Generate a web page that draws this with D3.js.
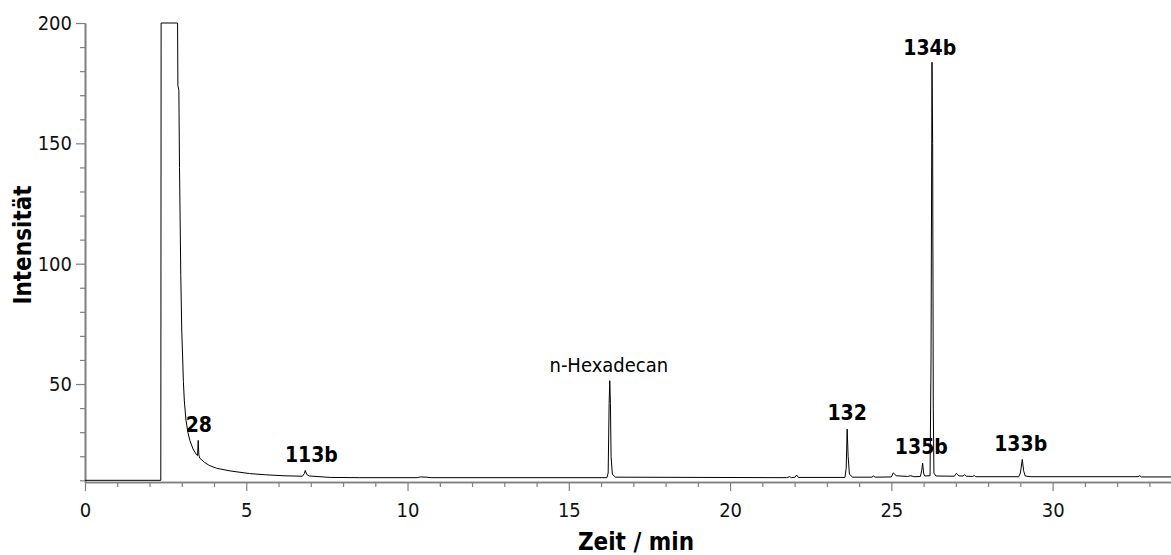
<!DOCTYPE html>
<html>
<head>
<meta charset="utf-8">
<script src="https://cdn.jsdelivr.net/npm/d3@7"></script>
<style>
    body { margin: 0; background: #fff; }
    svg text { font-family: "DejaVu Sans Condensed", "DejaVu Sans", sans-serif; font-stretch: condensed; }
</style>
</head>
<body>
<svg id="chart"></svg>
<script>
// chromatogram trace (time in min, intensity)
const timeMin = [
    0, 2.35, 2.36, 2.87, 2.88, 2.91, 2.93, 2.97, 3.0, 3.03, 3.05, 3.08, 3.13, 3.19, 3.25, 3.35,
    3.46, 3.49, 3.51, 3.53, 3.56, 3.7, 3.85, 4.08, 4.5, 5.1, 5.6, 6.14, 6.74, 6.8, 6.83, 6.87,
    6.95, 7.6, 8.5, 10.3, 10.4, 10.6, 10.7, 16.18, 16.22, 16.25, 16.27, 16.29, 16.31, 16.35,
    16.45, 21.75, 21.85, 21.9, 22.02, 22.06, 22.12, 23.56, 23.6, 23.63, 23.66, 23.7, 23.8,
    24.4, 24.44, 24.5, 25.0, 25.06, 25.15, 25.5, 25.6, 25.7, 25.9, 25.94, 25.97, 26.0, 26.03,
    26.2, 26.23, 26.26, 26.28, 26.3, 26.32, 26.38, 26.95, 27.02, 27.1, 27.22, 27.27, 27.32,
    27.52, 27.57, 27.62, 28.95, 29.0, 29.06, 29.1, 29.15, 29.3, 32.65, 32.7, 32.75, 33.67
];
const intensity = [
    10, 10, 200, 200, 174, 172, 140, 95, 72, 60, 51, 43, 35, 30, 26.6, 23,
    20.6, 20.3, 26.6, 20.5, 19.2, 17.5, 16.2, 15, 13.9, 12.8, 12.3, 11.9, 11.7, 12.8, 14.1, 12.5,
    11.8, 11.2, 11.1, 11.1, 11.4, 11.3, 11.1, 11.1, 13, 42, 51.4, 42, 20, 12.5,
    11.3, 11.1, 11.5, 11.1, 11.3, 12.2, 11.2, 11.2, 15, 31.3, 20, 12.5, 11.3,
    11.3, 11.8, 11.3, 11.4, 13.1, 11.9, 11.6, 11.9, 11.5, 11.6, 14, 17.1, 13, 11.8,
    11.9, 60, 183.7, 150, 40, 13, 11.8, 11.7, 12.9, 11.8, 11.8, 12.3, 11.7,
    11.6, 12, 11.5, 11.5, 13, 18.7, 14, 11.8, 11.5, 11.5, 11.9, 11.4, 11.4
];

// peak annotations
const peakNames = ["28", "113b", "n-Hexadecan", "132", "134b", "135b", "133b"];
const peakLabelTime = [3.53, 7.02, 16.24, 23.63, 26.19, 25.93, 29.01];
const peakLabelIntensity = [30.2, 17.7, 54.9, 35.1, 186.7, 20.9, 22.3];
const peakBold = [true, true, false, true, true, true, true];

// axis ticks
const xMajorTicks = [0, 5, 10, 15, 20, 25, 30];
const xMinorTicks = [1, 2, 3, 4, 6, 7, 8, 9, 11, 12, 13, 14, 16, 17, 18, 19, 21, 22, 23, 24, 26, 27, 28, 29, 31, 32, 33];
const yMajorTicks = [50, 100, 150, 200];
const yMinorTicks = [10, 20, 30, 40, 60, 70, 80, 90, 110, 120, 130, 140, 160, 170, 180, 190];

const xTitle = "Zeit / min";
const yTitle = "Intensität";

const width = 1171, height = 555;
const margin = { top: 23, right: 0, bottom: 73, left: 85 };

const svg = d3.select("#chart").attr("width", width).attr("height", height);

const x = d3.scaleLinear().domain([0, 33.67]).range([margin.left, width - margin.right]);
const y = d3.scaleLinear().domain([9.3, 200]).range([height - margin.bottom, margin.top]);

const axisColor = "#808080";

// minor ticks first, then major with labels
const xMinor = svg.append("g")
    .attr("transform", `translate(0, ${y.range()[0]})`)
    .call(d3.axisBottom(x).tickValues(xMinorTicks).tickSize(5).tickSizeOuter(0).tickFormat(""));
const xMajor = svg.append("g")
    .attr("transform", `translate(0, ${y.range()[0]})`)
    .call(d3.axisBottom(x).tickValues(xMajorTicks).tickSize(9).tickSizeOuter(0).tickPadding(12));
const yMinor = svg.append("g")
    .attr("transform", `translate(${margin.left}, 0)`)
    .call(d3.axisLeft(y).tickValues(yMinorTicks).tickSize(5).tickSizeOuter(0).tickFormat(""));
const yMajor = svg.append("g")
    .attr("transform", `translate(${margin.left}, 0)`)
    .call(d3.axisLeft(y).tickValues(yMajorTicks).tickSize(9).tickSizeOuter(0).tickPadding(4));

[xMinor, xMajor, yMinor, yMajor].forEach(g => {
    g.selectAll("path.domain").attr("stroke", axisColor).attr("stroke-width", 1.6);
    g.selectAll(".tick line").attr("stroke", axisColor).attr("stroke-width", 1.2);
    g.selectAll(".tick text").attr("fill", "#111").attr("font-size", "20px");
});

// trace
const points = timeMin.map((t, i) => [t, intensity[i]]);
const line = d3.line().x(d => x(d[0])).y(d => y(d[1]));

svg.append("path")
    .datum(points)
    .attr("fill", "none")
    .attr("stroke", "#000")
    .attr("stroke-width", 1)
    .attr("stroke-linejoin", "miter")
    .attr("d", line);

// peak labels
svg.append("g").selectAll("text")
    .data(peakNames)
    .join("text")
    .attr("x", (d, i) => x(peakLabelTime[i]))
    .attr("y", (d, i) => y(peakLabelIntensity[i]))
    .attr("text-anchor", "middle")
    .attr("font-size", (d, i) => peakBold[i] ? "21px" : "20px")
    .attr("font-weight", (d, i) => peakBold[i] ? "bold" : "normal")
    .attr("fill", "#000")
    .text(d => d);

// axis titles
svg.append("text")
    .attr("x", 636)
    .attr("y", 550)
    .attr("text-anchor", "middle")
    .attr("font-size", "24px")
    .attr("font-weight", "bold")
    .text(xTitle);

svg.append("text")
    .attr("transform", "translate(31, 245) rotate(-90)")
    .attr("text-anchor", "middle")
    .attr("font-size", "24px")
    .attr("font-weight", "bold")
    .text(yTitle);
</script>
</body>
</html>
